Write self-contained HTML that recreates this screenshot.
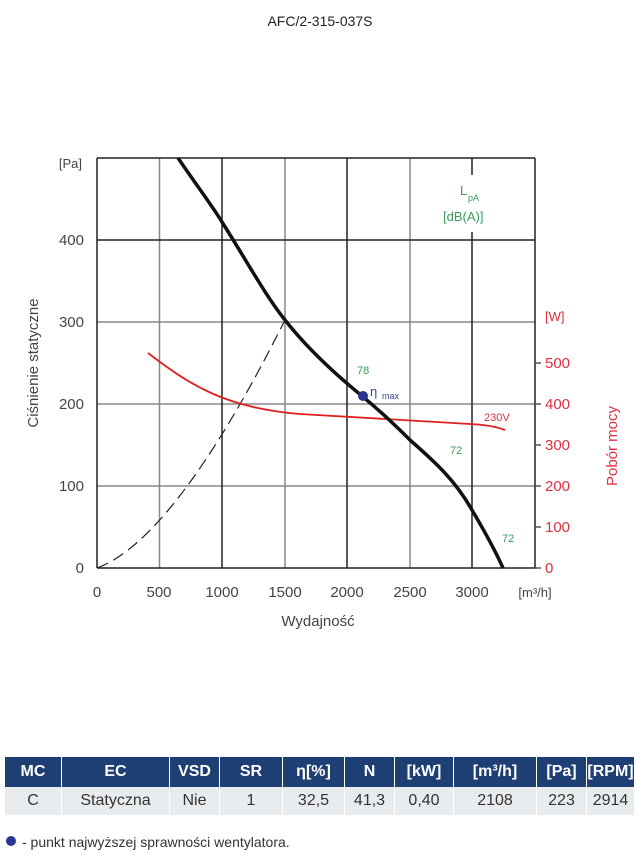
<!DOCTYPE html><html><head><meta charset="utf-8"><style>
body{margin:0;background:#fff;width:639px;height:866px;overflow:hidden;font-family:"Liberation Sans",sans-serif}
table{position:absolute;left:5px;top:757px;width:629px;border-collapse:collapse;font-size:15px}
th{background:#1d3f73;color:#fff;height:30px;font-weight:bold;border-right:1px solid #fff;padding:0;font-size:16px}
td{background:#e9ecef;color:#333;height:28px;text-align:center;border-right:1px solid #fff;padding:0;font-size:16px}
</style></head><body>
<svg width="639" height="866" style="position:absolute;left:0;top:0" font-family="Liberation Sans,sans-serif">
<text x="320" y="26" text-anchor="middle" font-size="14" fill="#222">AFC/2-315-037S</text>
<g stroke="#888" stroke-width="1.5">
<line x1="159.5" y1="158" x2="159.5" y2="568"/><line x1="285" y1="158" x2="285" y2="568"/><line x1="410" y1="158" x2="410" y2="568"/>
<line x1="97" y1="322" x2="535" y2="322"/><line x1="97" y1="486" x2="535" y2="486"/><line x1="97" y1="404" x2="535" y2="404"/>
</g>
<g stroke="#222" stroke-width="1.5">
<line x1="222" y1="158" x2="222" y2="568"/><line x1="347" y1="158" x2="347" y2="568"/><line x1="472" y1="158" x2="472" y2="175"/><line x1="472" y1="232" x2="472" y2="568"/>
<line x1="97" y1="240" x2="535" y2="240"/><line x1="97" y1="158" x2="535" y2="158"/>
<line x1="97" y1="158" x2="97" y2="568"/><line x1="535" y1="158" x2="535" y2="568"/><line x1="97" y1="568" x2="535" y2="568"/>
<line x1="535" y1="363" x2="541" y2="363" stroke="#555"/><line x1="535" y1="404" x2="541" y2="404" stroke="#555"/><line x1="535" y1="445" x2="541" y2="445" stroke="#555"/><line x1="535" y1="486" x2="541" y2="486" stroke="#555"/><line x1="535" y1="527" x2="541" y2="527" stroke="#555"/><line x1="535" y1="568" x2="541" y2="568" stroke="#555"/>
</g>
<path fill="none" stroke="#222" stroke-width="1.2" stroke-dasharray="12,6" d="M97,568 C160,545 230,430 285,320"/>
<path fill="none" stroke="#e02020" stroke-width="1.8" d="M148,353 C190,385 225,408 300,414 L470,424 C490,425 500,428 505,430"/>
<path fill="none" stroke="#111" stroke-width="3.5" d="M178,158 C200,190 215,210 222,222 C245,258 265,295 285,320 C310,352 340,378 362,396 C385,415 400,430 410,440 C435,462 455,480 472,510 C485,532 495,550 503,568"/>
<circle cx="363" cy="396" r="5" fill="#2a3593"/>
<text x="370" y="396" font-size="13" fill="#3a4599">η</text><text x="382" y="399" font-size="9" fill="#3a4599">max</text>
<g fill="#3a9a5a" font-size="11"><text x="357" y="374">78</text><text x="450" y="454">72</text><text x="502" y="542">72</text>
<text x="460" y="195" font-size="13">L</text><text x="468" y="201" font-size="9">pA</text><text x="443" y="221" font-size="13">[dB(A)]</text></g>
<g fill="#444" font-size="15" text-anchor="end"><text x="84" y="245">400</text><text x="84" y="327">300</text><text x="84" y="409">200</text><text x="84" y="491">100</text><text x="84" y="573">0</text><text x="82" y="168" font-size="13">[Pa]</text></g>
<g fill="#444" font-size="15" text-anchor="middle"><text x="97" y="597">0</text><text x="159" y="597">500</text><text x="222" y="597">1000</text><text x="285" y="597">1500</text><text x="347" y="597">2000</text><text x="410" y="597">2500</text><text x="472" y="597">3000</text><text x="535" y="597" font-size="13">[m³/h]</text></g>
<text x="318" y="626" text-anchor="middle" font-size="15" fill="#444">Wydajność</text>
<text transform="translate(38,363) rotate(-90)" text-anchor="middle" font-size="15" fill="#444">Ciśnienie statyczne</text>
<g fill="#e03040" font-size="15"><text x="545" y="368">500</text><text x="545" y="409">400</text><text x="545" y="450">300</text><text x="545" y="491">200</text><text x="545" y="532">100</text><text x="545" y="573">0</text><text x="545" y="321" font-size="13">[W]</text>
<text x="484" y="421" font-size="11">230V</text>
<text transform="translate(617,446) rotate(-90)" text-anchor="middle">Pobór mocy</text></g>
<circle cx="11" cy="841" r="5" fill="#2a3593"/>
<text x="22" y="847" font-size="14" fill="#333">- punkt najwyższej sprawności wentylatora.</text>
</svg>
<table><tr><th style="width:56px">MC</th><th style="width:107px">EC</th><th style="width:49px">VSD</th><th style="width:62px">SR</th><th style="width:61px">η[%]</th><th style="width:49px">N</th><th style="width:58px">[kW]</th><th style="width:82px">[m³/h]</th><th style="width:49px">[Pa]</th><th style="border:0">[RPM]</th></tr>
<tr><td>C</td><td>Statyczna</td><td>Nie</td><td>1</td><td>32,5</td><td>41,3</td><td>0,40</td><td>2108</td><td>223</td><td style="border:0">2914</td></tr></table>
</body></html>
